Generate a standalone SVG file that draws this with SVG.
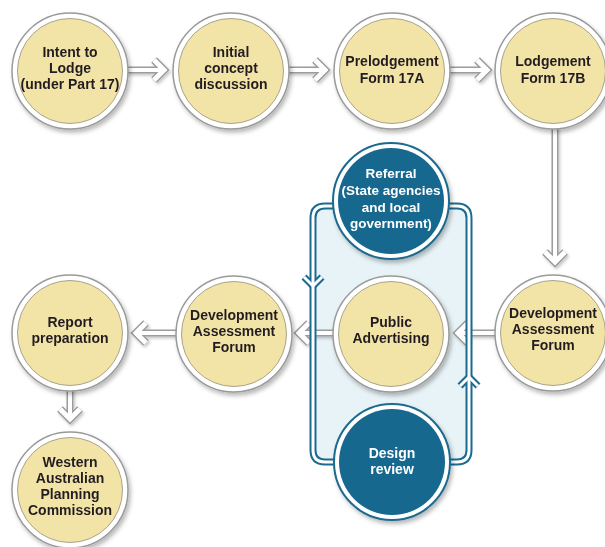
<svg xmlns="http://www.w3.org/2000/svg" width="605" height="547" viewBox="0 0 605 547">
<defs>
<filter id="sh" x="-20%" y="-20%" width="150%" height="150%">
<feDropShadow dx="2" dy="3" stdDeviation="2.2" flood-color="#000" flood-opacity="0.28"/>
</filter>
<filter id="sh2" x="-10%" y="-10%" width="130%" height="130%">
<feDropShadow dx="1.5" dy="2" stdDeviation="1.5" flood-color="#000" flood-opacity="0.22"/>
</filter>
<style>
.so{fill:none;stroke:#9c9c9c;stroke-width:7;stroke-linecap:butt}
.si{fill:none;stroke:#ffffff;stroke-width:4;stroke-linecap:butt}
.co{fill:none;stroke:#9c9c9c;stroke-width:8;stroke-linejoin:miter;stroke-linecap:butt}
.ci{fill:none;stroke:#ffffff;stroke-width:5;stroke-linejoin:miter;stroke-linecap:butt}
.bo{fill:none;stroke:#1b6a8f;stroke-width:7;stroke-linejoin:miter}
.bi{fill:none;stroke:#ffffff;stroke-width:3;stroke-linejoin:miter}
.ring{fill:#ffffff;stroke:#9a9a9a;stroke-width:1.5}
.yel{fill:#f2e3a7;stroke:#aaa38c;stroke-width:1}
.dring{fill:#ffffff;stroke:#1b6a8f;stroke-width:2}
.blue{fill:#17688f}
text{font-family:"Liberation Sans",Arial,sans-serif;font-weight:bold;font-size:14px;text-anchor:middle}
.dk{fill:#231f20}
.wt{fill:#ffffff;font-size:13.5px}
</style>
</defs>
<rect width="605" height="547" fill="#ffffff"/>

<g id="panel-fill">
<rect x="313" y="206" width="156" height="256" rx="12" fill="#e8f3f7"/>
</g>

<g id="connectors" filter="url(#sh2)">
<g class="so">
<line x1="126" y1="70" x2="164" y2="70"/>
<line x1="287" y1="70" x2="325" y2="70"/>
<line x1="448" y1="70" x2="487" y2="70"/>
<line x1="555" y1="126" x2="555" y2="262"/>
<line x1="500" y1="333" x2="458" y2="333"/>
<line x1="336" y1="333" x2="299" y2="333"/>
<line x1="178" y1="333" x2="136" y2="333"/>
<line x1="70" y1="388" x2="70" y2="419"/>
</g>
<g class="co">
<polyline points="154,60 164,70 154,80"/>
<polyline points="315,60 325,70 315,80"/>
<polyline points="477,60 487,70 477,80"/>
<polyline points="545,252 555,262 565,252"/>
<polyline points="468,323 458,333 468,343"/>
<polyline points="309,323 299,333 309,343"/>
<polyline points="146,323 136,333 146,343"/>
<polyline points="60,409 70,419 80,409"/>
</g>
<g class="si">
<line x1="126" y1="70" x2="164" y2="70"/>
<line x1="287" y1="70" x2="325" y2="70"/>
<line x1="448" y1="70" x2="487" y2="70"/>
<line x1="555" y1="126" x2="555" y2="262"/>
<line x1="500" y1="333" x2="458" y2="333"/>
<line x1="336" y1="333" x2="299" y2="333"/>
<line x1="178" y1="333" x2="136" y2="333"/>
<line x1="70" y1="388" x2="70" y2="419"/>
</g>
<g class="ci">
<polyline points="154,60 164,70 154,80"/>
<polyline points="315,60 325,70 315,80"/>
<polyline points="477,60 487,70 477,80"/>
<polyline points="545,252 555,262 565,252"/>
<polyline points="468,323 458,333 468,343"/>
<polyline points="309,323 299,333 309,343"/>
<polyline points="146,323 136,333 146,343"/>
<polyline points="60,409 70,419 80,409"/>
</g>
</g>

<g id="panel-loop">
<path class="bo" d="M325,206 H457 Q469,206 469,218 V450 Q469,462 457,462 H325 Q313,462 313,450 V218 Q313,206 325,206 Z"/>
<polyline class="bo" points="304,277 313,286 322,277"/>
<polyline class="bo" points="460,386 469,377 478,386"/>
<path class="bi" d="M325,206 H457 Q469,206 469,218 V450 Q469,462 457,462 H325 Q313,462 313,450 V218 Q313,206 325,206 Z"/>
<polyline class="bi" points="304,277 313,286 322,277"/>
<polyline class="bi" points="460,386 469,377 478,386"/>
</g>

<g id="n1" filter="url(#sh)"><circle class="ring" cx="70" cy="71" r="58"/><circle class="yel" cx="70" cy="71" r="52.5"/>
<text class="dk"><tspan x="70" y="57">Intent to</tspan><tspan x="70" y="73">Lodge</tspan><tspan x="70" y="89">(under Part 17)</tspan></text></g>

<g id="n2" filter="url(#sh)"><circle class="ring" cx="231" cy="71" r="58"/><circle class="yel" cx="231" cy="71" r="52.5"/>
<text class="dk"><tspan x="231" y="57">Initial</tspan><tspan x="231" y="73">concept</tspan><tspan x="231" y="89">discussion</tspan></text></g>

<g id="n3" filter="url(#sh)"><circle class="ring" cx="392" cy="71" r="58"/><circle class="yel" cx="392" cy="71" r="52.5"/>
<text class="dk"><tspan x="392" y="66">Prelodgement</tspan><tspan x="392" y="83">Form 17A</tspan></text></g>

<g id="n4" filter="url(#sh)"><circle class="ring" cx="553" cy="71" r="58"/><circle class="yel" cx="553" cy="71" r="52.5"/>
<text class="dk"><tspan x="553" y="66">Lodgement</tspan><tspan x="553" y="83">Form 17B</tspan></text></g>

<g id="n5" filter="url(#sh)"><circle class="ring" cx="553" cy="333" r="58"/><circle class="yel" cx="553" cy="333" r="52.5"/>
<text class="dk"><tspan x="553" y="318">Development</tspan><tspan x="553" y="334">Assessment</tspan><tspan x="553" y="350">Forum</tspan></text></g>

<g id="n6" filter="url(#sh)"><circle class="dring" cx="391" cy="201" r="58"/><circle class="blue" cx="391" cy="201" r="53"/>
<text class="wt"><tspan x="391" y="178">Referral</tspan><tspan x="391" y="195">(State agencies</tspan><tspan x="391" y="212">and local</tspan><tspan x="391" y="228">government)</tspan></text></g>

<g id="n7" filter="url(#sh)"><circle class="ring" cx="391" cy="334" r="58"/><circle class="yel" cx="391" cy="334" r="52.5"/>
<text class="dk"><tspan x="391" y="327">Public</tspan><tspan x="391" y="343">Advertising</tspan></text></g>

<g id="n8" filter="url(#sh)"><circle class="dring" cx="392" cy="462" r="58"/><circle class="blue" cx="392" cy="462" r="53"/>
<text class="wt" style="font-size:14px"><tspan x="392" y="458">Design</tspan><tspan x="392" y="474">review</tspan></text></g>

<g id="n9" filter="url(#sh)"><circle class="ring" cx="234" cy="334" r="58"/><circle class="yel" cx="234" cy="334" r="52.5"/>
<text class="dk"><tspan x="234" y="320">Development</tspan><tspan x="234" y="336">Assessment</tspan><tspan x="234" y="352">Forum</tspan></text></g>

<g id="n10" filter="url(#sh)"><circle class="ring" cx="70" cy="333" r="58"/><circle class="yel" cx="70" cy="333" r="52.5"/>
<text class="dk"><tspan x="70" y="327">Report</tspan><tspan x="70" y="343">preparation</tspan></text></g>

<g id="n11" filter="url(#sh)"><circle class="ring" cx="70" cy="490" r="58"/><circle class="yel" cx="70" cy="490" r="52.5"/>
<text class="dk"><tspan x="70" y="467">Western</tspan><tspan x="70" y="483">Australian</tspan><tspan x="70" y="499">Planning</tspan><tspan x="70" y="515">Commission</tspan></text></g>
</svg>
